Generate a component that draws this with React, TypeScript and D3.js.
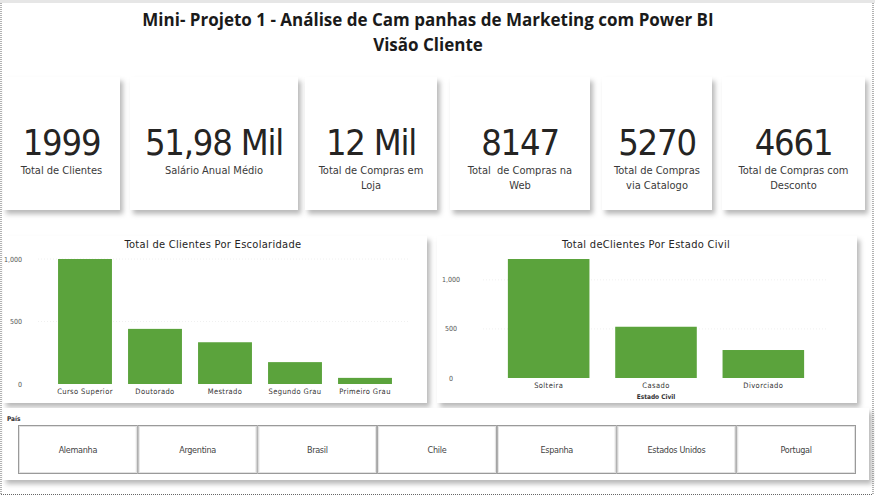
import React from 'react';
import * as d3 from 'd3';

// KPI cards
const kpiValues = ['1999', '51,98 Mil', '12 Mil', '8147', '5270', '4661'];
const kpiLabels = [
  ['Total de Clientes'],
  ['Salário Anual Médio'],
  ['Total de Compras em', 'Loja'],
  ['Total  de Compras na', 'Web'],
  ['Total de Compras', 'via Catalogo'],
  ['Total de Compras com', 'Desconto'],
];

// Clientes por escolaridade
const escolaridade = ['Curso Superior', 'Doutorado', 'Mestrado', 'Segundo Grau', 'Primeiro Grau'];
const escolaridadeClientes = [1000, 441, 334, 175, 49];
const escolaridadeTicks = [0, 500, 1000];

// Clientes por estado civil
const estadoCivil = ['Solteira', 'Casado', 'Divorciado'];
const estadoCivilClientes = [1212, 522, 285];
const estadoCivilTicks = [0, 500, 1000];

// Slicer
const paises = ['Alemanha', 'Argentina', 'Brasil', 'Chile', 'Espanha', 'Estados Unidos', 'Portugal'];

const W = 875;
const H = 497;
const GREEN = '#5ba33c';
const TXT = '#252423';
const DIN = '"DejaVu Sans Condensed", "DejaVu Sans", sans-serif';

// card boxes [x0, x1]
const cardBoxes: [number, number][] = [
  [3, 120],
  [130, 298],
  [305, 437],
  [450, 590],
  [602, 712],
  [722, 865],
];

const fmt = d3.format(',');

interface BarChartProps {
  x0: number;
  x1: number;
  title: string;
  titleX: number;
  cats: string[];
  vals: number[];
  ticks: number[];
  plotX: [number, number];
  baseY: number;
  topY: number;
  padInner: number;
  tickX: number;
  tickAnchor: 'end' | 'middle' | 'start';
  axisTitle?: string;
  catY: number;
}

function BarChart(p: BarChartProps) {
  const x = d3.scaleBand<string>().domain(p.cats).range(p.plotX).paddingInner(p.padInner).paddingOuter(p.padInner / 2);
  const y = d3.scaleLinear().domain([0, d3.max(p.vals) as number]).range([p.baseY, p.topY]);
  return (
    <g>
      <rect x={p.x0} y={236} width={p.x1 - p.x0} height={167} fill="#fff" filter="url(#shadow)" />
      <text x={p.titleX} y={248} textAnchor="middle" fontFamily={DIN} fontSize={11} fill={TXT} letterSpacing={0.3}>
        {p.title}
      </text>
      {p.ticks.map((t) => (
        <g key={t}>
          {t > 0 && (
            <line x1={p.plotX[0] - 12} x2={p.plotX[1] + 10} y1={y(t)} y2={y(t)} stroke="#f0f0f0" strokeWidth={1} strokeDasharray="1,2" />
          )}
          <text x={p.tickX} y={y(t) + 2.5} textAnchor={p.tickAnchor} fontFamily={DIN} fontSize={7} fill="#555">
            {fmt(t)}
          </text>
        </g>
      ))}
      {p.cats.map((c, i) => (
        <g key={c}>
          <rect x={x(c)} y={y(p.vals[i])} width={x.bandwidth()} height={p.baseY - y(p.vals[i])} fill={GREEN} />
          <text x={(x(c) as number) + x.bandwidth() / 2} y={p.catY} textAnchor="middle" fontFamily={DIN} fontSize={7.5} fill="#333" letterSpacing={0.4}>
            {c}
          </text>
        </g>
      ))}
      {p.axisTitle && (
        <text x={(p.plotX[0] + p.plotX[1]) / 2} y={399} textAnchor="middle" fontFamily={DIN} fontSize={6.5} fontWeight="bold" fill="#333">
          {p.axisTitle}
        </text>
      )}
    </g>
  );
}

export default function App() {
  const slicerX = d3.scaleBand<string>().domain(paises).range([18, 856]);
  return (
    <svg width={W} height={H} style={{ position: 'absolute', left: 0, top: 0, background: '#fff' }}>
      <defs>
        <filter id="shadow" x="-5%" y="-5%" width="115%" height="120%">
          <feDropShadow dx={3} dy={4} stdDeviation={2.5} floodColor="#000" floodOpacity={0.28} />
        </filter>
      </defs>
      <rect x={0} y={0} width={W} height={H} fill="#fff" />
      <rect x={0} y={0} width={W} height={3} fill="#e6e6e6" />

      {/* titulo */}
      <text x={428} y={26} textAnchor="middle" fontFamily='"Open Sans", sans-serif' fontWeight={700} fontSize={17} fill="#1a1a1a">
        Mini- Projeto 1 - Análise de Cam panhas de Marketing com Power BI
      </text>
      <text x={428} y={51} textAnchor="middle" fontFamily='"Open Sans", sans-serif' fontWeight={700} fontSize={17} fill="#1a1a1a">
        Visão Cliente
      </text>

      {/* cartoes */}
      {kpiValues.map((v, i) => {
        const [a, b] = cardBoxes[i];
        const cx = (a + b) / 2;
        return (
          <g key={v}>
            <rect x={a} y={77} width={b - a} height={133} fill="#fff" filter="url(#shadow)" />
            <text x={cx} y={155} textAnchor="middle" fontFamily={DIN} fontSize={36} fill={TXT} letterSpacing={-1.2}>
              {v}
            </text>
            {kpiLabels[i].map((l, j) => (
              <text key={j} x={cx} y={174 + j * 15} textAnchor="middle" fontFamily={DIN} fontSize={11} fill="#3a3a3a" xmlSpace="preserve" style={{ whiteSpace: 'pre' }}>
                {l}
              </text>
            ))}
          </g>
        );
      })}

      <BarChart
        x0={3}
        x1={427}
        title="Total de Clientes Por Escolaridade"
        titleX={213}
        cats={escolaridade}
        vals={escolaridadeClientes}
        ticks={escolaridadeTicks}
        plotX={[50, 400]}
        baseY={384}
        topY={259}
        padInner={0.23}
        tickX={22}
        tickAnchor="end"
        catY={394}
      />
      <BarChart
        x0={437}
        x1={857}
        title="Total deClientes Por Estado Civil"
        titleX={646}
        cats={estadoCivil}
        vals={estadoCivilClientes}
        ticks={estadoCivilTicks}
        plotX={[495, 817]}
        baseY={378}
        topY={259}
        padInner={0.24}
        tickX={451}
        tickAnchor="middle"
        axisTitle="Estado Civil"
        catY={388}
      />

      {/* segmentacao pais */}
      <rect x={3} y={408} width={866} height={72} fill="#fff" filter="url(#shadow)" />
      <text x={7} y={421} fontFamily={DIN} fontSize={6.5} fontWeight="bold" fill="#333">
        País
      </text>
      {paises.map((p) => (
        <g key={p}>
          <rect x={(slicerX(p) as number) + 0.5} y={425.5} width={slicerX.bandwidth() - 1} height={48} fill="#fff" stroke="#9a9a9a" strokeWidth={1} />
          <rect x={(slicerX(p) as number) + 1.5} y={426.5} width={slicerX.bandwidth() - 3} height={46} fill="none" stroke="#e2e2e2" strokeWidth={1} />
          <text x={(slicerX(p) as number) + slicerX.bandwidth() / 2} y={453} textAnchor="middle" fontFamily={DIN} fontSize={9} fill="#444" letterSpacing={-0.3}>
            {p}
          </text>
        </g>
      ))}

      {/* bordas pontilhadas */}
      <line x1={1} x2={1} y1={3} y2={495} stroke="#666" strokeWidth={1} strokeDasharray="1,1" />
      <line x1={873} x2={873} y1={3} y2={495} stroke="#666" strokeWidth={1} strokeDasharray="1,1" />
      <line x1={1} x2={873} y1={494.5} y2={494.5} stroke="#666" strokeWidth={1} strokeDasharray="1,1" />
    </svg>
  );
}
